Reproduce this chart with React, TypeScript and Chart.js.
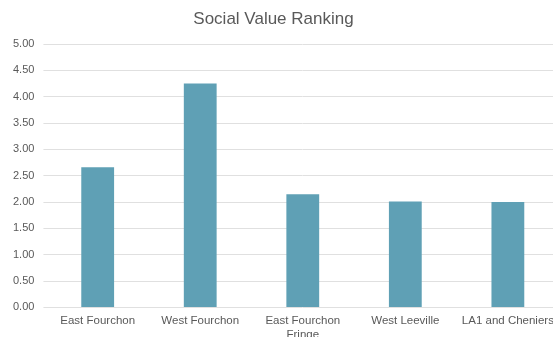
import React, { useEffect, useRef } from "react";
import { Chart, registerables } from "chart.js";

Chart.register(...registerables);

const categories: (string | string[])[] = [
  "East Fourchon",
  "West Fourchon",
  ["East Fourchon", "Fringe"],
  "West Leeville",
  "LA1 and Cheniers",
];
const values: number[] = [2.66, 4.25, 2.15, 2.01, 2.0];
const chartTitle = "Social Value Ranking";

const FONT = "'Liberation Sans', Arial, sans-serif";

export default function App() {
  const ref = useRef<HTMLCanvasElement | null>(null);
  useEffect(() => {
    if (!ref.current) return;
    const chart = new Chart(ref.current, {
      type: "bar",
      data: {
        labels: categories,
        datasets: [
          {
            label: "Social Value",
            data: values,
            backgroundColor: "#5fa0b5",
            borderWidth: 0,
            barPercentage: 0.64,
            categoryPercentage: 0.5,
          },
        ],
      },
      options: {
        animation: false,
        responsive: false,
        maintainAspectRatio: false,
        layout: { padding: { left: 18, right: 1, top: 44, bottom: 4 } },
        plugins: {
          legend: { display: false },
          tooltip: { enabled: false },
          title: { display: false },
        },
        scales: {
          x: {
            grid: { display: false, drawTicks: false },
            border: { display: false },
            ticks: {
              color: "#595959",
              font: { family: FONT, size: 11.5 },
              padding: 7,
              maxRotation: 0,
              autoSkip: false,
            },
          },
          y: {
            min: 0,
            max: 5,
            grid: { color: "#e0e0e0", lineWidth: 1, tickLength: 3, drawTicks: true },
            border: { display: false },
            ticks: {
              stepSize: 0.5,
              color: "#595959",
              font: { family: FONT, size: 11 },
              padding: 9,
              callback: (v: any) => Number(v).toFixed(2),
            },
          },
        },
      },
    });
    return () => chart.destroy();
  }, []);
  return (
    <div
      style={{
        position: "fixed",
        left: 0,
        top: 0,
        width: 553,
        height: 337,
        overflow: "hidden",
        background: "#ffffff",
      }}
    >
      <canvas
        ref={ref}
        width={575}
        height={353}
        style={{ position: "absolute", left: -14, top: 0, width: 575, height: 353 }}
      />
      <div
        style={{
          position: "absolute",
          left: 0,
          top: 9,
          width: 547,
          textAlign: "center",
          fontFamily: FONT,
          fontSize: 17,
          lineHeight: "20px",
          color: "#595959",
          whiteSpace: "nowrap",
        }}
      >
        {chartTitle}
      </div>
    </div>
  );
}
